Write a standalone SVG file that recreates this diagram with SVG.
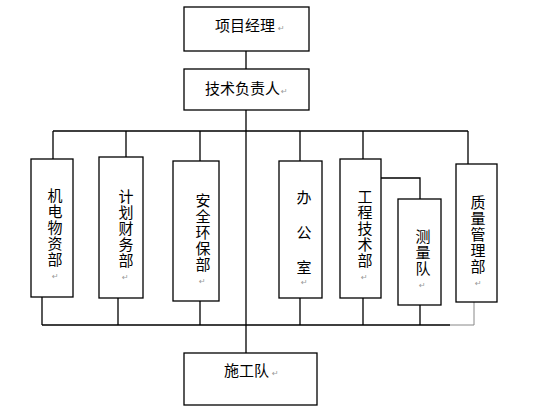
<svg xmlns="http://www.w3.org/2000/svg" width="560" height="413" viewBox="0 0 560 413">
<style>
.box{fill:#fff;stroke:#000;stroke-width:1.3}
.ln{fill:none;stroke:#000;stroke-width:1.3}
.lg{fill:none;stroke:#888;stroke-width:1}
.v{font-family:"Noto Sans CJK SC","Noto Sans",sans-serif;font-size:15px;fill:#000;writing-mode:vertical-rl;letter-spacing:1px}
.tl{font-family:"Noto Sans CJK SC","Noto Sans",sans-serif;font-size:15px;fill:#000}
.rm{font-family:"DejaVu Sans",sans-serif;font-size:8px;fill:#999}
</style>
<rect width="560" height="413" fill="#fff"/>
<g id="connectors">
<path class="ln" d="M246 51V69M246 110V353"/>
<path class="ln" d="M53 131H468M53 131V159M126 131V157M200 131V161M300 131V161M363 131V159M468 131V164"/>
<path class="ln" d="M381 178H420V199"/>
<path class="ln" d="M42 297V325M118 298V325M200 301V325M300 298V325M363 298V325M420 305V325M42 325H450"/>
<path class="lg" d="M450 325H474V302"/>
</g>
<g id="n1"><rect class="box" x="184" y="7" width="125" height="44"/><text class="tl" x="215" y="31">项目经理</text><text class="rm" x="278" y="31">↵</text></g>
<g id="n2"><rect class="box" x="184" y="69" width="125" height="41"/><text class="tl" x="205" y="94">技术负责人</text><text class="rm" x="281" y="94">↵</text></g>
<g id="n3"><rect class="box" x="31" y="159" width="42" height="138"/><text class="v" x="55" y="188">机电物资部</text><text class="rm" x="52" y="279">↵</text></g>
<g id="n4"><rect class="box" x="99" y="157" width="44" height="141"/><text class="v" x="126" y="189">计划财务部</text><text class="rm" x="122" y="280">↵</text></g>
<g id="n5"><rect class="box" x="173" y="161" width="46" height="140"/><text class="v" x="203" y="193">安全环保部</text><text class="rm" x="199" y="284">↵</text></g>
<g id="n6"><rect class="box" x="279" y="161" width="43" height="137"/><text class="v" x="304" y="190" style="letter-spacing:20px">办公室</text><text class="rm" x="301" y="285">↵</text></g>
<g id="n7"><rect class="box" x="340" y="159" width="41" height="139"/><text class="v" x="365" y="189">工程技术部</text><text class="rm" x="361" y="280">↵</text></g>
<g id="n8"><rect class="box" x="398" y="199" width="43" height="106"/><text class="v" x="423" y="229">测量队</text><text class="rm" x="419" y="288">↵</text></g>
<g id="n9"><rect class="box" x="456" y="164" width="41" height="138"/><text class="v" x="478" y="195">质量管理部</text><text class="rm" x="475" y="286">↵</text></g>
<g id="n10"><rect class="box" x="184" y="353" width="133" height="52"/><text class="tl" x="224" y="376">施工队</text><text class="rm" x="272" y="376">↵</text></g>
</svg>
